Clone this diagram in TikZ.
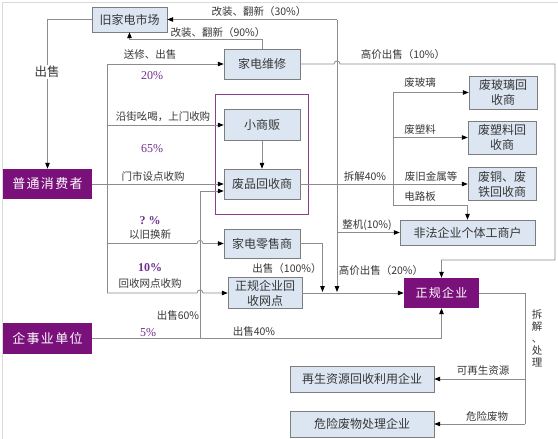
\documentclass[tikz,border=0pt]{standalone}
\usepackage{fontspec}
\setmainfont{Noto Sans CJK SC}
\newfontfamily\keyfont[LetterSpace=10]{Noto Sans CJK SC}
\newfontfamily\numfont{Liberation Serif}
\usetikzlibrary{arrows.meta,calc,positioning,fit}

\definecolor{boxfill}{RGB}{220,230,242}
\definecolor{boxline}{RGB}{125,125,125}
\definecolor{linegray}{RGB}{140,140,140}
\definecolor{deeppurple}{RGB}{122,16,122}
\definecolor{pctpurple}{RGB}{112,48,140}
\definecolor{framepurple}{RGB}{140,60,140}
\definecolor{inkgray}{RGB}{55,55,55}

\begin{document}
\begin{tikzpicture}[x=1pt, y=-1pt, >={Triangle[length=6pt,width=4.5pt,color=black]},
  box/.style={draw=boxline, fill=boxfill, text=inkgray, font=\fontsize{12}{15}\selectfont,
    inner sep=0pt, align=center, minimum width=76pt, minimum height=30pt},
  keybox/.style={fill=deeppurple, text=white, font=\keyfont\fontsize{13}{15}\selectfont,
    inner sep=0pt, minimum width=89pt, minimum height=30pt},
  line/.style={draw=linegray, line width=0.8pt},
  lbl/.style={text=inkgray, font=\fontsize{10.5}{12.5}\selectfont, inner sep=1pt},
  pct/.style={text=pctpurple, font=\numfont\fontsize{12}{13}\selectfont, inner sep=1pt},
]

  % canvas and faint outer frame
  \fill[white] (0,0) rectangle (558,439);
  \useasboundingbox (0,0) rectangle (558,439);
  \draw[gray!30, line width=0.6pt] (2.5,439) -- (2.5,2.5) -- (558,2.5);

  %-------------------------
  % Boxes
  %-------------------------
  \node[box, minimum width=75pt, minimum height=25pt] (oldmkt) at (129.5,19.5) {旧家电市场};
  \node[box] (repair) at (262,64) {家电维修};
  \node[box, minimum height=31pt] (vendor) at (262,125) {小商贩};
  \node[box] (junk) at (262,184) {废品回收商};
  \node[box, minimum height=29pt] (retail) at (262,243.5) {家电零售商};
  \node[box, minimum width=74pt, minimum height=31pt] (netpt) at (265,293) {正规企业回\\收网点};

  \node[draw=framepurple, line width=1.3pt, fit=(vendor)(junk), inner xsep=8.5pt, inner ysep=15pt] (dealers) {};

  \node[keybox] (consumer) at (47.5,184) {普通消费者};
  \node[keybox, minimum height=31pt] (unit) at (47.5,338.5) {企事业单位};
  \node[keybox, minimum width=75pt, font=\keyfont\fontsize{12}{15}\selectfont] (firm) at (441.5,293) {正规企业};

  \node[box, minimum width=68pt, minimum height=33pt] (glass) at (503,92.5) {废玻璃回\\收商};
  \node[box, minimum width=68pt, minimum height=33pt] (plastic) at (502,137.5) {废塑料回\\收商};
  \node[box, minimum width=68pt, minimum height=33pt] (metal) at (502,184) {废铜、废\\铁回收商};
  \node[box, minimum width=135pt, minimum height=25pt] (illegal) at (467.5,232.5) {非法企业个体工商户};

  \node[box, minimum width=144pt, minimum height=26pt] (renew) at (362,379) {再生资源回收利用企业};
  \node[box, minimum width=144pt, minimum height=26pt] (hazard) at (362,424) {危险废物处理企业};

  %-------------------------
  % Bend points
  %-------------------------
  \coordinate (ctop) at (107,64);
  \coordinate (cbot) at (107,293);
  \coordinate (sixty) at (200,338.5);
  \coordinate (bus) at (337,19.5);
  \coordinate (busend) at (337,292);
  \coordinate (retdrop) at (322.5,292);
  \coordinate (split) at (393,92.5);
  \coordinate (splitend) at (393,205);
  \coordinate (rt) at (555,64);
  \coordinate (rtb) at (555,260);
  \coordinate (hzend) at (525,424);

  %-------------------------
  % Consumers
  %-------------------------
  \draw[line,->] (oldmkt.west) -| (consumer.north);
  \draw[line] (ctop) -- (cbot);
  \draw[line,->] (ctop) -- (repair.west);
  \draw[line,->] (ctop |- vendor) -- (vendor.west);
  \draw[line,->] (consumer.east) -- (junk.west);
  \draw[line,->] (ctop |- retail) -- ($(sixty |- retail)+(-3,0)$)
    .. controls +(0,-4) and +(0,-4) .. ($(sixty |- retail)+(3,0)$) -- (retail.west);
  \draw[line,->] (cbot) -- ($(sixty |- cbot)+(-3,0)$)
    .. controls +(0,-4) and +(0,-4) .. ($(sixty |- cbot)+(3,0)$) -- (netpt.west);

  % institutions
  \draw[line,->] (unit.east) -| (firm.south);
  \draw[line,->] (sixty) |- ($(junk.west)+(0,7)$);

  %-------------------------
  % Repair shops and dealers
  %-------------------------
  \draw[line,->] (repair.north) -- ++(0,-9) -| (oldmkt.south);
  \draw[line,->] (repair.east) -- ($(bus |- repair)+(-3,0)$)
    .. controls +(0,-4) and +(0,-4) .. ($(bus |- repair)+(3,0)$) -- (rt) -- (rtb) -| (firm.north);
  \draw[line,->] (vendor) -- (junk);

  \draw[line,->] (bus) -- (oldmkt.east);
  \draw[line,->] (bus) -- (busend);
  \draw[line,->] (bus |- illegal) -- (illegal.west);
  \draw[line,->] (junk.east) -- (metal.west);
  \draw[line] (split) -- (splitend);
  \draw[line,->] (split) -- (glass.west);
  \draw[line,->] (split |- plastic) -- (plastic.west);
  \draw[line,->] (splitend) -| (illegal.north);

  \draw[line,->] (retail.east) -| (retdrop);
  \draw[line,->] (netpt.east) -- (firm.west);

  % formal firms
  \draw[line] (firm.east) -| (hzend);
  \draw[line,->] (hzend |- renew) -- (renew.east);
  \draw[line,->] (hzend) -- (hazard.east);

  %-------------------------
  % Labels
  %-------------------------
  \node[lbl] (l30) at (259,12) {改装、翻新（30\%）};
  \node[lbl] (l90) at (218,33) {改装、翻新（90\%）};
  \node[lbl, fill=white, font=\fontsize{12.5}{14}\selectfont] (lsell) at (47,72) {出售};
  \node[lbl] (lrep) at (150,55) {送修、出售};
  \node[pct] (p20) at (152,76) {20\%};
  \node[lbl] (lstreet) at (163,117) {沿街吆喝，上门收购};
  \node[pct] (p65) at (152,149) {65\%};
  \node[lbl] (lshop) at (153,176) {门市设点收购};
  \node[pct, font=\numfont\bfseries\fontsize{12}{13}\selectfont] (pq) at (150,221) {?\ \%};
  \node[lbl] (ltrade) at (150,235) {以旧换新};
  \node[pct, font=\numfont\bfseries\fontsize{12}{13}\selectfont] (p10) at (150,268) {10\%};
  \node[lbl] (lnet) at (150,284) {回收网点收购};
  \node[lbl] (l60) at (178,316) {出售60\%};
  \node[pct] (p5) at (148,333) {5\%};
  \node[lbl] (l40) at (254,332) {出售40\%};
  \node[lbl] (l100) at (287,269) {出售（100\%）};
  \node[lbl] (lhi10) at (403,55) {高价出售（10\%）};
  \node[lbl] (lhi20) at (381,271) {高价出售（20\%）};
  \node[lbl] (lwhole) at (367,225) {整机(10\%)};
  \node[lbl] (ldis) at (365,177) {拆解40\%};
  \node[lbl] (lglass) at (420,83) {废玻璃};
  \node[lbl] (lplas) at (420,130) {废塑料};
  \node[lbl] (lmetal) at (431,176) {废旧金属等};
  \node[lbl] (lboard) at (420,197) {电路板};
  \node[lbl, align=center, font=\fontsize{10.5}{12}\selectfont] (lproc) at (537,338) {拆\\解\\、\\处\\理};
  \node[lbl] (lrenew) at (483,371) {可再生资源};
  \node[lbl] (lhaz) at (487,416) {危险废物};

\end{tikzpicture}
\end{document}
